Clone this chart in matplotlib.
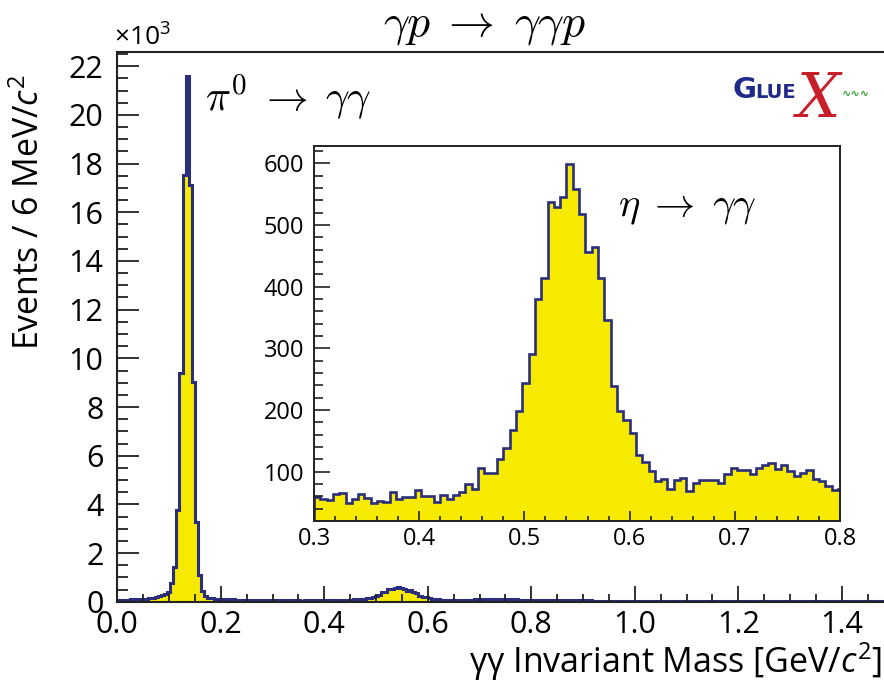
import numpy as np
import matplotlib
matplotlib.use('Agg')
import matplotlib.pyplot as plt
from matplotlib.ticker import MultipleLocator, FuncFormatter

plt.rcParams['font.family'] = ['Open Sans', 'DejaVu Sans']
plt.rcParams['mathtext.fontset'] = 'custom'
plt.rcParams['mathtext.rm'] = 'Open Sans'
plt.rcParams['mathtext.it'] = 'Open Sans:italic'
plt.rcParams['mathtext.bf'] = 'Open Sans:bold'

# ---------------- data (events per 6 MeV bin) ----------------
BIN_WIDTH = 0.006  # GeV/c^2

# 0.000 - 0.300 GeV (pi0 region)
main_low_counts = [
    60, 70, 80, 90, 95, 100, 105, 110, 120, 130, 145, 160, 185, 215, 260,
    310, 410, 760, 1440, 3770, 9380, 17550, 21590, 17110, 9040, 3290, 1100, 420, 230,
    170, 145, 130, 120, 112, 105, 100, 96, 92, 88, 85, 82, 80, 78, 76, 74, 72, 70, 68, 66, 64,
]

# 0.300 - 0.804 GeV (eta region, shown in the inset)
eta_region_counts = [
    59.6, 56.4, 54.1, 63.3, 64.9, 49.9, 55.3, 63.3, 58.0, 48.8,
    52.5, 50.9, 67.0, 56.4, 59.6, 59.6, 70.3, 60.6, 60.6, 50.9,
    61.7, 56.4, 61.7, 67.0, 79.5, 72.5, 105.3, 98.4, 98.4, 121.0,
    137.6, 167.2, 197.9, 243.8, 291.0, 379.5, 413.4, 537.2, 529.0, 545.0,
    599.2, 558.8, 518.4, 456.4, 464.5, 413.4, 346.0, 238.3, 197.9, 183.4,
    161.9, 126.3, 115.5, 101.0, 84.8, 88.7, 72.5, 86.4, 90.3, 68.7,
    82.2, 85.9, 85.9, 85.9, 82.2, 95.6, 106.5, 102.6, 102.6, 96.8,
    106.5, 110.2, 113.4, 103.7, 110.2, 101.0, 92.9, 98.4, 102.6, 87.6,
    84.8, 76.7, 70.3, 72.5,
]

# 0.804 - 1.500 GeV
main_high_counts = [
    70, 69, 67, 66, 64, 63, 62, 60, 59, 58, 57, 56, 55, 54, 53, 52,
    51, 50, 50, 49, 48, 47, 47, 46, 45, 45, 44, 44, 43, 42, 42, 41, 41,
    40, 40, 39, 39, 39, 38, 38, 38, 37, 37, 37, 36, 36, 36, 35, 35, 35, 35, 34, 34,
    34, 34, 33, 33, 33, 33, 32, 32, 32, 32, 32, 31, 31, 31, 31, 31, 30, 30, 30, 30,
    30, 30, 30, 29, 29, 29, 29, 29, 29, 28, 28, 28, 28, 28, 28, 28, 27, 27, 27, 27,
    27, 27, 27, 27, 26, 26, 26, 26, 26, 26, 26, 26, 25, 25, 25, 25, 25, 25, 25, 25,
    25, 24, 24,
]

counts = np.array(main_low_counts + eta_region_counts + main_high_counts, dtype=float)
edges = np.arange(len(counts) + 1) * BIN_WIDTH
inset_counts = np.array(eta_region_counts, dtype=float)
inset_edges = (len(main_low_counts) + np.arange(len(inset_counts) + 1)) * BIN_WIDTH

# ---------------- style ----------------
YELLOW = '#f6ea00'
NAVY = '#2b2e7a'
W, H = 884, 682

def frac(l, t, r, b):
    return [l / W, 1 - b / H, (r - l) / W, (b - t) / H]

fig = plt.figure(figsize=(W / 100, H / 100), dpi=100)

# ---------------- main axes ----------------
ax = fig.add_axes(frac(117.3, 51.7, 893.5, 601.7))
ax.stairs(counts, edges, fill=True, color=YELLOW, lw=0)
ax.stairs(counts, edges, color=NAVY, lw=2.2)
ax.set_xlim(0, 1.5)
ax.set_ylim(0, 22600)
ax.xaxis.set_major_locator(MultipleLocator(0.2))
ax.xaxis.set_minor_locator(MultipleLocator(0.05))
ax.yaxis.set_major_locator(MultipleLocator(2000))
ax.yaxis.set_minor_locator(MultipleLocator(500))
ax.xaxis.set_major_formatter(FuncFormatter(lambda v, p: f'{v:.1f}'))
ax.yaxis.set_major_formatter(FuncFormatter(lambda v, p: f'{v/1000:.0f}'))
ax.tick_params(which='both', direction='in', top=False, right=False, width=1.3, color='#222222')
ax.tick_params(axis='x', which='major', length=11.5, labelsize=22, pad=6)
ax.tick_params(axis='x', which='minor', length=5.8)
ax.tick_params(axis='y', which='major', length=15.8, labelsize=22, pad=10)
ax.tick_params(axis='y', which='minor', length=7.9)
for s in ax.spines.values():
    s.set_linewidth(1.5)
    s.set_color('#222222')

# ---------------- inset ----------------
axi = fig.add_axes(frac(314, 146, 840, 521))
axi.stairs(inset_counts, inset_edges, fill=True, color=YELLOW, lw=0)
axi.stairs(inset_counts, inset_edges, color=NAVY, lw=1.9)
axi.set_xlim(0.3, 0.8)
axi.set_ylim(20, 628)
axi.xaxis.set_major_locator(MultipleLocator(0.1))
axi.xaxis.set_minor_locator(MultipleLocator(0.02))
axi.yaxis.set_major_locator(MultipleLocator(100))
axi.yaxis.set_minor_locator(MultipleLocator(20))
axi.xaxis.set_major_formatter(FuncFormatter(lambda v, p: f'{v:.1f}'))
axi.tick_params(which='both', direction='in', top=False, right=False, width=1.2, color='#222222')
axi.tick_params(axis='x', which='major', length=7.2, labelsize=17, pad=4)
axi.tick_params(axis='x', which='minor', length=3.6)
axi.tick_params(axis='y', which='major', length=11.5, labelsize=17, pad=7)
axi.tick_params(axis='y', which='minor', length=6.3)
for s in axi.spines.values():
    s.set_linewidth(1.4)
    s.set_color('#222222')

# ---------------- texts ----------------
fig.text(484 / W, 1 - 24 / H, r'$\gamma p \;\rightarrow\; \gamma\gamma p$', math_fontfamily='cm',
         fontsize=33, ha='center', va='center')
fig.text(205 / W, 1 - 97 / H, r'$\pi^0 \;\rightarrow\; \gamma\gamma$', math_fontfamily='cm',
         fontsize=30, ha='left', va='center')
fig.text(618 / W, 1 - 207 / H, r'$\eta \;\rightarrow\; \gamma\gamma$', math_fontfamily='cm',
         fontsize=29, ha='left', va='center')
fig.text(114 / W, 1 - 46 / H, r'×10$^{3}$', fontsize=19, ha='left', va='baseline')
fig.text(30 / W, 1 - 74 / H, r'Events / 6 MeV/$c^{2}$', rotation=90, ha='center', va='top',
         fontsize=24.5)
fig.text(882 / W, 1 - 662 / H, r'γγ Invariant Mass [GeV/$c^{2}$]', ha='right', va='center',
         fontsize=24.5)

# GlueX logo (text approximation)
fig.text(732 / W, 1 - 98 / H, 'G', fontsize=21, fontweight='heavy', color='#1f2a8a',
         family='DejaVu Sans', ha='left', va='baseline')
fig.text(755 / W, 1 - 98 / H, 'LUE', fontsize=14, fontweight='heavy', color='#1f2a8a',
         family='DejaVu Sans', ha='left', va='baseline')
fig.text(797 / W, 1 - 117 / H, 'X', fontsize=44, style='italic', color='#c8202a',
         family='DejaVu Serif', ha='left', va='baseline')
fig.text(842 / W, 1 - 94 / H, '∿∿∿', fontsize=8, color='#3aa23a', fontweight='bold',
         family='DejaVu Sans', ha='left', va='center')

fig.savefig('out.png', dpi=100)
